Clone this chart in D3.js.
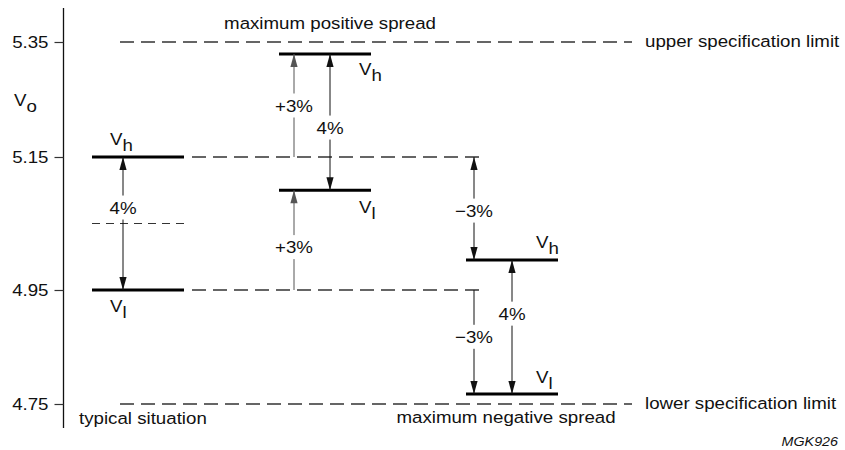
<!DOCTYPE html>
<html><head><meta charset="utf-8">
<script src="https://cdn.jsdelivr.net/npm/d3@7/dist/d3.min.js"></script>
<style>body{margin:0;background:#fff}svg{display:block}text{font-family:"Liberation Sans",Arial,Helvetica,sans-serif;fill:#111}</style>
</head><body>
<script>
// ---- data ----
const tickValues = [5.35, 5.15, 4.95, 4.75];
const columns = ["typical situation", "maximum positive spread", "maximum negative spread"];
const vHigh = [5.15, 5.30, 4.995];
const vLow = [4.95, 5.10, 4.80];
const nominal = 5.05;
const specValues = [5.35, 4.75];
const specLabels = ["upper specification limit", "lower specification limit"];
const refValues = [5.15, 4.95];
// arrows: column index, from value, to value, label, heads
const arrowCols = [0, 1, 1, 1, 2, 2, 2];
const arrowFrom = [5.15, 5.15, 5.30, 4.95, 5.15, 4.995, 4.95];
const arrowTo = [4.95, 5.30, 5.10, 5.10, 4.995, 4.80, 4.80];
const arrowLabels = ["4%", "+3%", "4%", "+3%", "\u22123%", "4%", "\u22123%"];
const arrowHeads = ["both", "end", "both", "end", "both", "both", "end"];

// ---- layout / style ----
const W = 845, H = 450, SX = 1.1, FS = 17;
const arrowDx = [-15, -31, 5, -31, -38, 0, -38];
const arrowLabelT = [0.38, 0.5, 0.54, 0.57, 0.52, 0.40, 0.45];
const arrowColor = ["#111", "#555", "#111", "#555", "#111", "#111", "#111"];

const svg = d3.select("body").append("svg").attr("width", W).attr("height", H);

const y = d3.scaleLinear()
  .domain([4.75, 4.80, 4.95, 5.15, 5.30, 5.35])
  .range([404, 394, 290, 157, 54, 42]);
const x = d3.scalePoint().domain(columns).range([138, 512]);
const halfBar = 46;

function txt(g, px, py, s, anchor, size, style) {
  return g.append("text")
    .attr("transform", `translate(${px},${py}) scale(${SX},1)`)
    .attr("text-anchor", anchor || "start")
    .attr("font-size", size || FS)
    .attr("font-style", style || "normal")
    .text(s);
}
function vlabel(px, py, sub) {
  const t = svg.append("text")
    .attr("transform", `translate(${px},${py}) scale(${SX},1)`)
    .attr("font-size", FS);
  t.append("tspan").text("V");
  t.append("tspan").attr("dy", 6).text(sub);
}

// axis
const axisX = 63.5;
svg.append("line").attr("x1", axisX).attr("x2", axisX).attr("y1", 8).attr("y2", 428)
  .attr("stroke", "#111").attr("stroke-width", 1.3);
const ax = svg.append("g").attr("transform", `translate(${axisX},0)`)
  .call(d3.axisLeft(y).tickValues(tickValues).tickSize(9).tickFormat(d3.format(".2f")));
ax.select(".domain").remove();
ax.selectAll(".tick line").attr("stroke", "#333").attr("stroke-width", 1.2);
ax.selectAll(".tick text")
  .attr("x", -15 / SX).attr("transform", `scale(${SX},1)`)
  .attr("font-size", FS).attr("font-family", '"Liberation Sans",Arial,sans-serif').attr("fill", "#111");
vlabel(14, 106, "o");

// dashed lines
const dash = "14,7";
specValues.forEach((v, i) => {
  svg.append("line").attr("x1", x(columns[0]) - 18).attr("x2", 632)
    .attr("y1", y(v)).attr("y2", y(v))
    .attr("stroke", "#333").attr("stroke-width", 1.3).attr("stroke-dasharray", dash);
  txt(svg, 645, y(v) + 5, specLabels[i]);
});
refValues.forEach(v => {
  svg.append("line").attr("x1", x(columns[0]) + 54).attr("x2", x(columns[2]) - 32)
    .attr("y1", y(v)).attr("y2", y(v))
    .attr("stroke", "#333").attr("stroke-width", 1.3).attr("stroke-dasharray", dash);
});
svg.append("line").attr("x1", x(columns[0]) - halfBar).attr("x2", x(columns[0]) + halfBar)
  .attr("y1", y(nominal)).attr("y2", y(nominal))
  .attr("stroke", "#333").attr("stroke-width", 1).attr("stroke-dasharray", "8,6");

// bars
columns.forEach((c, i) => {
  [vHigh[i], vLow[i]].forEach(v => {
    svg.append("line").attr("x1", x(c) - halfBar).attr("x2", x(c) + halfBar)
      .attr("y1", y(v)).attr("y2", y(v)).attr("stroke", "#000").attr("stroke-width", 3);
  });
});

// V labels
const vhOff = [[-28, -12], [34, 21], [24, -12]];
const vlOff = [[-28, 22], [34, 23], [24, -11]];
columns.forEach((c, i) => {
  vlabel(x(c) + vhOff[i][0], y(vHigh[i]) + vhOff[i][1], "h");
  vlabel(x(c) + vlOff[i][0], y(vLow[i]) + vlOff[i][1], "l");
});

// arrows
function head(px, py, dir, col) {
  const hl = 13, hw = 3.6;
  svg.append("path")
    .attr("d", `M${px},${py} L${px - hw},${py + dir * hl} L${px + hw},${py + dir * hl} Z`)
    .attr("fill", col);
}
arrowCols.forEach((ci, i) => {
  const px = x(columns[ci]) + arrowDx[i];
  const y1 = y(arrowFrom[i]), y2 = y(arrowTo[i]);
  const top = Math.min(y1, y2), bot = Math.max(y1, y2);
  const ly = top + (bot - top) * arrowLabelT[i];
  const col = arrowColor[i];
  svg.append("line").attr("x1", px).attr("x2", px).attr("y1", top).attr("y2", ly - 12)
    .attr("stroke", col).attr("stroke-width", 1);
  svg.append("line").attr("x1", px).attr("x2", px).attr("y1", ly + 12).attr("y2", bot)
    .attr("stroke", col).attr("stroke-width", 1);
  txt(svg, px, ly + 6, arrowLabels[i], "middle");
  const toIsTop = y2 < y1;
  if (arrowHeads[i] === "both") { head(px, top, 1, col); head(px, bot, -1, col); }
  else { if (toIsTop) head(px, top, 1, col); else head(px, bot, -1, col); }
});

// column titles
txt(svg, 79, 424, columns[0]);
txt(svg, 330, 29, columns[1], "middle");
txt(svg, 506, 423, columns[2], "middle");
txt(svg, 838, 446, "MGK926", "end", 13, "italic");
</script>
</body></html>
